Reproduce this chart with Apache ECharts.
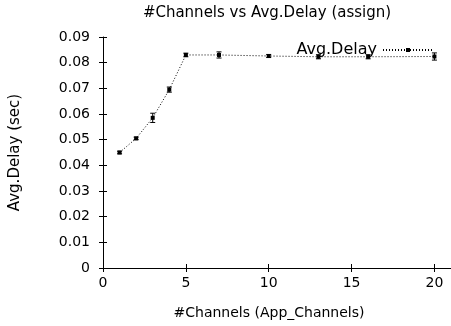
<!DOCTYPE html>
<html>
<head>
<meta charset="utf-8">
<script src="https://cdn.jsdelivr.net/npm/echarts@6/dist/echarts.min.js"></script>
<style>
  html, body { margin: 0; padding: 0; background: #fff; }
  #chart { width: 451px; height: 326px; }
</style>
</head>
<body>
<div id="chart"></div>
<script>
// Number of channels against mean delay, with error bars
const channels = [1, 2, 3, 4, 5, 7, 10, 13, 16, 20];
const avgDelay = [0.045, 0.0505, 0.0585, 0.0695, 0.083, 0.083, 0.0826, 0.0823, 0.0823, 0.0824];
const delayErr = [0.0005, 0.0005, 0.0018, 0.001, 0.0007, 0.0012, 0.0006, 0.0008, 0.0008, 0.0014];
const xTicks = [0, 5, 10, 15, 20];
const yTicks = [0, 0.01, 0.02, 0.03, 0.04, 0.05, 0.06, 0.07, 0.08, 0.09];

const FONT = 'DejaVu Sans';
const points = channels.map((c, i) => [c, avgDelay[i]]);
const bars = channels.map((c, i) => [c, avgDelay[i] - delayErr[i], avgDelay[i] + delayErr[i]]);

const chart = echarts.init(document.getElementById('chart'), null, { renderer: 'canvas' });

const baseX = {
  type: 'value', min: 0, max: 21, interval: 5,
  axisLine: { show: true, lineStyle: { color: '#000', width: 1 } },
  axisTick: { show: true, inside: true, length: 4, lineStyle: { color: '#000' } },
  splitLine: { show: false }
};
const baseY = {
  type: 'value', min: 0, max: 0.09, interval: 0.01,
  axisLine: { show: true, lineStyle: { color: '#000', width: 1 } },
  axisTick: { show: true, inside: true, length: 4, lineStyle: { color: '#000' } },
  splitLine: { show: false }
};

chart.setOption({
  animation: false,
  backgroundColor: '#fff',
  title: {
    text: '#Channels vs Avg.Delay (assign)',
    left: 262, top: 1, textAlign: 'center',
    textStyle: { fontFamily: FONT, fontSize: 15, fontWeight: 'normal', color: '#000' }
  },
  legend: {
    right: 12, top: 37,
    align: 'right',
    itemWidth: 50, itemHeight: 5, itemGap: 5,
    textStyle: { fontFamily: FONT, fontSize: 16, color: '#000', padding: [0, 1, 0, 0] },
    data: [{ name: 'Avg.Delay' }]
  },
  grid: { left: 102, top: 37, right: -3, bottom: 58 },
  xAxis: [
    Object.assign({}, baseX, {
      position: 'bottom',
      name: '#Channels (App_Channels)', nameLocation: 'middle', nameGap: 38,
      nameTextStyle: { fontFamily: FONT, fontSize: 14, color: '#000', padding: [0, 16, 0, 0] },
      axisLabel: {
        fontFamily: FONT, fontSize: 14, color: '#000', margin: 8,
        customValues: xTicks
      }
    }),
    Object.assign({}, baseX, { position: 'top', axisLabel: { show: false } })
  ],
  yAxis: [
    Object.assign({}, baseY, {
      position: 'left',
      name: 'Avg.Delay (sec)', nameLocation: 'middle', nameGap: 80,
      nameTextStyle: { fontFamily: FONT, fontSize: 15, color: '#000' },
      axisLabel: {
        fontFamily: FONT, fontSize: 14, color: '#000', margin: 13,
        customValues: yTicks,
        formatter: v => (v === 0 ? '0' : v.toFixed(2))
      }
    }),
    Object.assign({}, baseY, {
      position: 'right',
      axisLine: { show: false },
      axisLabel: { show: false }
    })
  ],
  series: [
    {
      name: 'Avg.Delay',
      type: 'line',
      data: points,
      symbol: 'rect',
      symbolSize: 4,
      showSymbol: true,
      itemStyle: { color: '#000' },
      lineStyle: { color: '#000', width: 1, type: [1, 2] },
      z: 3
    },
    {
      name: 'errors',
      type: 'custom',
      data: bars,
      encode: { x: 0, y: [1, 2] },
      renderItem: (params, api) => {
        const x = api.value(0);
        const lo = api.coord([x, api.value(1)]);
        const hi = api.coord([x, api.value(2)]);
        const cap = 2.5;
        const style = { stroke: '#000', lineWidth: 1 };
        return {
          type: 'group',
          children: [
            { type: 'line', shape: { x1: lo[0], y1: lo[1], x2: hi[0], y2: hi[1] }, style },
            { type: 'line', shape: { x1: lo[0] - cap, y1: lo[1], x2: lo[0] + cap, y2: lo[1] }, style },
            { type: 'line', shape: { x1: hi[0] - cap, y1: hi[1], x2: hi[0] + cap, y2: hi[1] }, style }
          ]
        };
      },
      z: 4
    }
  ]
});
</script>
</body>
</html>
